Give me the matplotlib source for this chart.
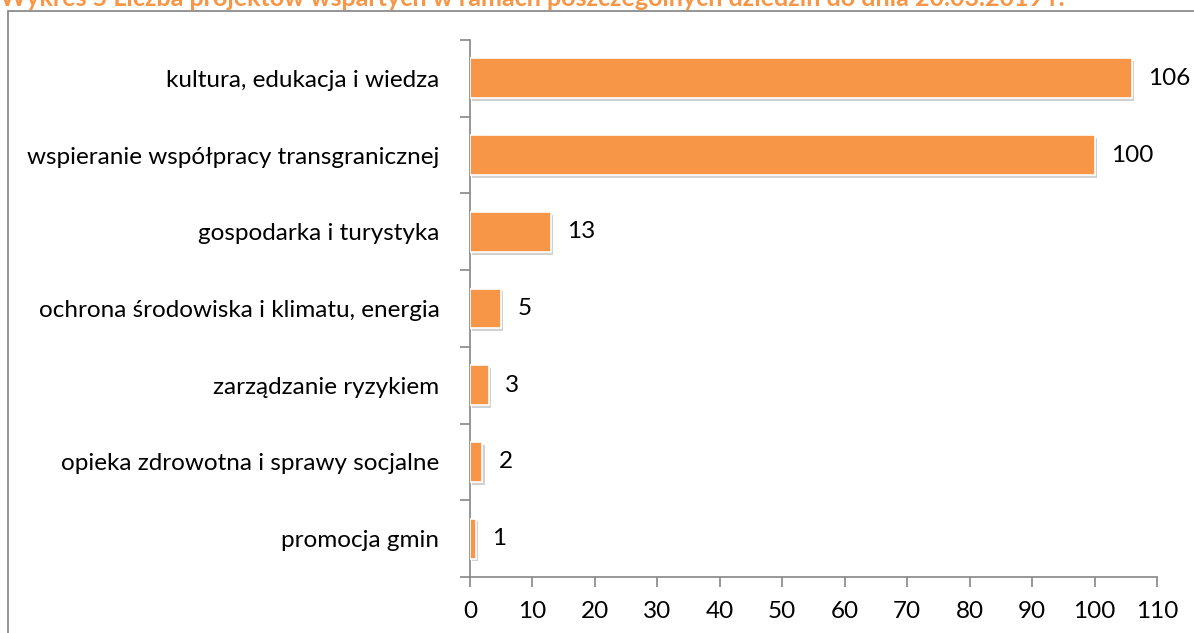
import matplotlib
matplotlib.use("Agg")
import matplotlib.pyplot as plt
import matplotlib.patheffects as pe
from matplotlib.patches import Rectangle

plt.rcParams['font.family'] = ['Lato', 'DejaVu Sans']

# dane
categories = [
    "kultura, edukacja i wiedza",
    "wspieranie współpracy transgranicznej",
    "gospodarka i turystyka",
    "ochrona środowiska i klimatu, energia",
    "zarządzanie ryzykiem",
    "opieka zdrowotna i sprawy socjalne",
    "promocja gmin",
]
values = [106, 100, 13, 5, 3, 2, 1]
x_ticks = [0, 10, 20, 30, 40, 50, 60, 70, 80, 90, 100, 110]
title = "Wykres 5 Liczba projektów wspartych w ramach poszczególnych dziedzin do dnia 20.03.2019 r."

BAR_COLOR = '#F79646'
AXIS_COLOR = '#868686'
FS = 17.5

fig = plt.figure(figsize=(11.94, 6.33), dpi=100)
ax = fig.add_axes([470 / 1194, 1 - 577 / 633, (1157 - 470) / 1194, (577 - 40) / 633])

ypos = list(range(len(categories)))
bars = ax.barh(ypos, values, height=0.52, color=BAR_COLOR,
               edgecolor='white', linewidth=1.2, zorder=3)
for b in bars:
    b.set_path_effects([pe.SimplePatchShadow(offset=(1.5, -2), shadow_rgbFace='#9a9a9a', alpha=0.45),
                        pe.Normal()])

for y, v in zip(ypos, values):
    ax.text(v + 2.6, y, str(v), va='center', ha='left', fontsize=FS, color='black')

ax.set_xlim(0, 110)
ax.set_ylim(len(categories) - 0.5, -0.5)
ax.set_xticks(x_ticks)
ax.set_xticklabels([str(t) for t in x_ticks], fontsize=FS)

# etykiety kategorii w środku pasm, znaczniki na granicach
ax.set_yticks(ypos)
ax.set_yticklabels(categories, fontsize=FS)
ax.tick_params(axis='y', which='major', length=0, pad=22)
ax.set_yticks([i - 0.5 for i in range(len(categories) + 1)], minor=True)
ax.tick_params(axis='y', which='minor', length=7, color=AXIS_COLOR, width=1.2)
ax.tick_params(axis='x', which='major', length=7, color=AXIS_COLOR, width=1.2, pad=10)

for s in ['top', 'right']:
    ax.spines[s].set_visible(False)
ax.spines['left'].set_color(AXIS_COLOR)
ax.spines['bottom'].set_color(AXIS_COLOR)
ax.spines['left'].set_linewidth(1.2)
ax.spines['bottom'].set_linewidth(1.2)

# ramka obszaru wykresu (wychodzi poza kadr)
frame = Rectangle((8 / 1194, -0.1), 1.2, 1 - 11 / 633 + 0.1, transform=fig.transFigure,
                  fill=False, edgecolor='#8c8c8c', linewidth=1.3)
fig.patches.append(frame)

# tytuł przycięty górną krawędzią
fig.text(0.0, 1 - 6 / 633, title, ha='left', va='baseline', fontsize=18,
         fontweight='bold', color=BAR_COLOR)

fig.savefig('out.png', dpi=100)
